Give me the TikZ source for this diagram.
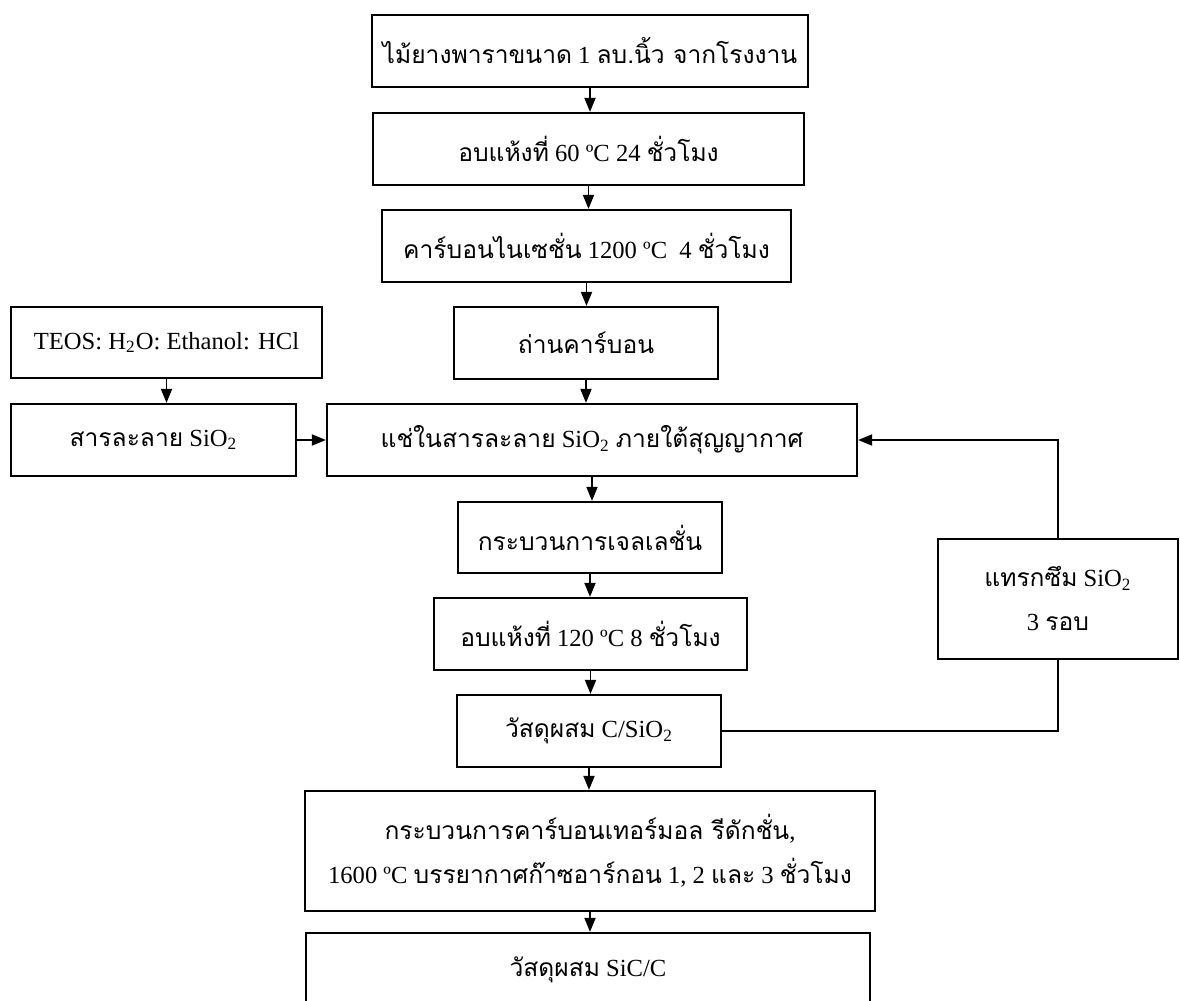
\documentclass[tikz,border=0pt]{standalone}
\usepackage{fontspec}
\setmainfont{Liberation Serif}
\newfontfamily\thaifont[Script=Thai]{Loma}
\usepackage{tikz}
\usetikzlibrary{arrows.meta}
\tikzset{
  box/.style={draw=black, line width=1.1pt, inner sep=0pt, align=center,
    font=\fontsize{12.3}{22}\selectfont},
  arr/.style={draw=black, line width=0.9pt, -{Triangle[length=7pt,width=5.5pt]}},
  link/.style={draw=black, line width=0.9pt},
}

\begin{document}
\begin{tikzpicture}[x=0.5pt,y=-0.5pt]
  \useasboundingbox (0,0) rectangle (1180,1001);

  % main column
  \node[box, minimum width=218pt, minimum height=36pt] (wood) at (590,51)
    {{\thaifont ไม้ยางพาราขนาด} 1 {\thaifont ลบ.นิ้ว จากโรงงาน}};
  \node[box, minimum width=215.5pt, minimum height=36pt] (dry1) at (588.5,149)
    {{\thaifont อบแห้งที่} 60 ºC 24 {\thaifont ชั่วโมง}};
  \node[box, minimum width=204.5pt, minimum height=36pt] (carb) at (586.5,246)
    {{\thaifont คาร์บอนไนเซชั่น} 1200 ºC\ \ 4 {\thaifont ชั่วโมง}};
  \node[box, minimum width=132pt, minimum height=36pt] (char) at (586,343)
    {{\thaifont ถ่านคาร์บอน}};
  \node[box, minimum width=265pt, minimum height=36pt] (soak) at (592,440)
    {{\thaifont แช่ในสารละลาย} SiO\textsubscript{2} {\thaifont ภายใต้สุญญากาศ}};
  \node[box, minimum width=132pt, minimum height=35.5pt] (gel) at (590,537.5)
    {{\thaifont กระบวนการเจลเลชั่น}};
  \node[box, minimum width=156.5pt, minimum height=36pt] (dry2) at (590.5,634)
    {{\thaifont อบแห้งที่} 120 ºC 8 {\thaifont ชั่วโมง}};
  \node[box, minimum width=132pt, minimum height=36pt] (csio) at (589,731)
    {{\thaifont วัสดุผสม} C/SiO\textsubscript{2}};
  \node[box, minimum width=285pt, minimum height=60pt] (ctr) at (590,851)
    {{\thaifont กระบวนการคาร์บอนเทอร์มอล รีดักชั่น},\\
     1600 ºC {\thaifont บรรยากาศก๊าซอาร์กอน} 1, 2 {\thaifont และ} 3 {\thaifont ชั่วโมง}};
  \node[box, minimum width=282pt, minimum height=37pt] (sicc) at (588,970)
    {{\thaifont วัสดุผสม} SiC/C};

  % sol branch
  \node[box, minimum width=155.5pt, minimum height=35.5pt] (teos) at (166.5,342.5)
    {TEOS: H\textsubscript{2}O: Ethanol: HCl};
  \node[box, minimum width=142.5pt, minimum height=36pt] (sol) at (153.5,440)
    {{\thaifont สารละลาย} SiO\textsubscript{2}};

  % loop
  \node[box, minimum width=120pt, minimum height=60pt] (infil) at (1058,599)
    {{\thaifont แทรกซึม} SiO\textsubscript{2}\\ 3 {\thaifont รอบ}};

  \draw[arr] (wood.south) -- (wood.south |- dry1.north);
  \draw[arr] (dry1.south) -- (dry1.south |- carb.north);
  \draw[arr] (carb.south) -- (carb.south |- char.north);
  \draw[arr] (char.south) -- (char.south |- soak.north);
  \draw[arr] (soak.south) -- (soak.south |- gel.north);
  \draw[arr] (gel.south) -- (gel.south |- dry2.north);
  \draw[arr] (dry2.south) -- (dry2.south |- csio.north);
  \draw[arr] (csio.south) -- (csio.south |- ctr.north);
  \draw[arr] (ctr.south) -- (ctr.south |- sicc.north);

  \draw[arr] (teos.south) -- (teos.south |- sol.north);
  \draw[arr] (sol.east) -- (soak.west);

  \draw[link] (csio.east) -| (infil.south);
  \draw[arr] (infil.north) |- (soak.east);
\end{tikzpicture}
\end{document}
